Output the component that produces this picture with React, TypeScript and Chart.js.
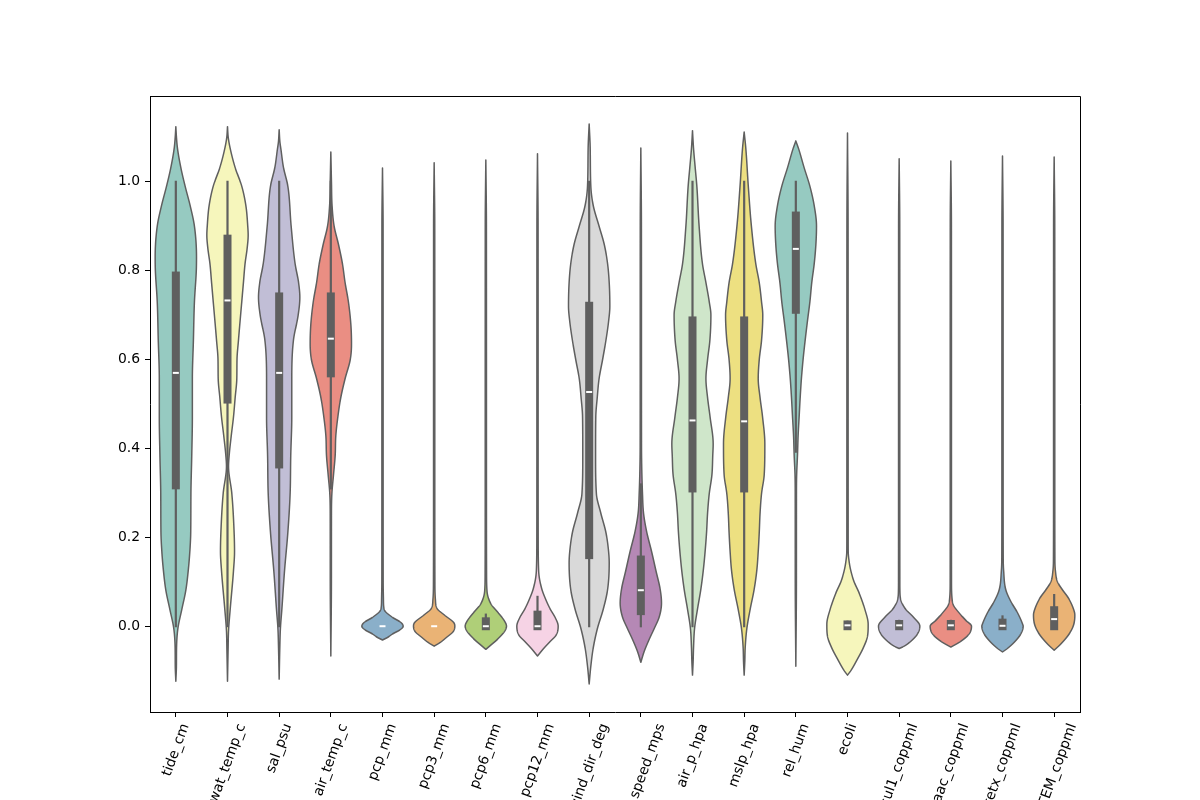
import React, { useEffect, useRef } from "react";
import { Chart, registerables } from "chart.js";

Chart.register(...registerables);

// ---- data -------------------------------------------------------------

const categories = [
  "tide_cm", "wat_temp_c", "sal_psu", "air_temp_c", "pcp_mm", "pcp3_mm",
  "pcp6_mm", "pcp12_mm", "wind_dir_deg", "wind_speed_mps", "air_p_hpa",
  "mslp_hpa", "rel_hum", "ecoli", "sul1_coppml", "aac_coppml",
  "tetx_coppml", "blaTEM_coppml",
];

// inner box statistics (normalised 0..1 values)
const whiskerLow = [0, 0, 0, 0.31, 0, 0, 0, 0, 0, 0, 0, 0, 0.393, 0, 0, 0, 0, 0];
const quartile1 = [0.317, 0.51, 0.364, 0.569, 0, 0, 0, 0, 0.16, 0.034, 0.31, 0.31, 0.712, 0, 0, 0, 0, 0];
const medians = [0.57, 0.733, 0.57, 0.647, 0, 0, 0, 0, 0.527, 0.081, 0.463, 0.461, 0.849, 0.002, 0.002, 0.002, 0.001, 0.016];
const quartile3 = [0.789, 0.872, 0.742, 0.742, 0, 0, 0.011, 0.026, 0.721, 0.15, 0.688, 0.688, 0.924, 0.004, 0.005, 0.005, 0.008, 0.036];
const whiskerHigh = [1, 1, 1, 1, 0, 0, 0.026, 0.066, 1, 0.319, 1, 1, 1, 0.01, 0.012, 0.012, 0.022, 0.07];

// kernel density outlines: [value, relative half-width]
const tideDensity: [number, number][] = [[1.124,0],[1.10,0.03],[1.075,0.08],[1.03,0.25],[0.99,0.45],[0.945,0.7],[0.90,0.9],[0.83,1.0],[0.80,0.99],[0.73,0.9],[0.643,0.85],[0.557,0.8],[0.47,0.8],[0.384,0.77],[0.298,0.73],[0.211,0.72],[0.17,0.68],[0.125,0.6],[0.08,0.48],[0.038,0.29],[-0.005,0.1],[-0.048,0.035],[-0.09,0.028],[-0.124,0]];
const watTempDensity: [number, number][] = [[1.124,0],[1.10,0.035],[1.075,0.13],[1.032,0.37],[0.99,0.69],[0.946,0.89],[0.90,0.98],[0.88,1.0],[0.85,0.95],[0.816,0.85],[0.773,0.77],[0.73,0.69],[0.643,0.53],[0.60,0.46],[0.557,0.45],[0.514,0.37],[0.471,0.29],[0.428,0.18],[0.384,0.08],[0.36,0.05],[0.298,0.21],[0.211,0.32],[0.168,0.34],[0.125,0.29],[0.038,0.13],[-0.01,0.05],[-0.05,0.03],[-0.124,0]];
const salDensity: [number, number][] = [[1.117,0],[1.09,0.035],[1.075,0.08],[1.032,0.21],[0.99,0.42],[0.90,0.58],[0.816,0.77],[0.773,0.94],[0.74,1.0],[0.70,0.92],[0.643,0.69],[0.557,0.61],[0.47,0.61],[0.384,0.56],[0.298,0.53],[0.211,0.42],[0.125,0.26],[0.038,0.13],[-0.005,0.06],[-0.05,0.03],[-0.119,0]];
const airTempDensity: [number, number][] = [[1.067,0],[1.0,0.03],[0.946,0.06],[0.90,0.16],[0.859,0.37],[0.816,0.56],[0.773,0.69],[0.73,0.85],[0.678,0.97],[0.635,1.0],[0.60,0.94],[0.557,0.69],[0.514,0.48],[0.471,0.34],[0.428,0.24],[0.384,0.21],[0.341,0.13],[0.298,0.05],[0.25,0.03],[0.1,0.028],[-0.067,0]];
const pcpDensity: [number, number][] = [[1.031,0],[0.9,0.028],[0.3,0.03],[0.1,0.032],[0.06,0.045],[0.038,0.08],[0.021,0.45],[0.008,0.9],[0.0,1.0],[-0.008,0.85],[-0.017,0.5],[-0.025,0.25],[-0.031,0]];
const pcp3Density: [number, number][] = [[1.043,0],[0.9,0.028],[0.3,0.03],[0.1,0.035],[0.06,0.06],[0.04,0.14],[0.025,0.5],[0.008,0.95],[0.0,1.0],[-0.012,0.92],[-0.025,0.6],[-0.038,0.25],[-0.045,0]];
const pcp6Density: [number, number][] = [[1.049,0],[0.9,0.028],[0.3,0.03],[0.12,0.035],[0.08,0.055],[0.05,0.25],[0.03,0.6],[0.012,0.9],[0.0,1.0],[-0.012,0.9],[-0.03,0.55],[-0.042,0.25],[-0.052,0]];
const pcp12Density: [number, number][] = [[1.063,0],[0.9,0.028],[0.4,0.03],[0.2,0.033],[0.125,0.055],[0.085,0.2],[0.06,0.4],[0.04,0.6],[0.02,0.85],[0.0,1.0],[-0.02,0.9],[-0.035,0.6],[-0.05,0.3],[-0.067,0]];
const windDirDensity: [number, number][] = [[1.13,0],[1.075,0.05],[0.99,0.08],[0.946,0.2],[0.90,0.48],[0.859,0.73],[0.816,0.89],[0.773,0.97],[0.72,1.0],[0.686,0.94],[0.643,0.81],[0.60,0.65],[0.557,0.48],[0.514,0.39],[0.471,0.32],[0.384,0.31],[0.298,0.35],[0.255,0.56],[0.211,0.81],[0.168,0.94],[0.142,0.97],[0.082,0.89],[0.038,0.68],[-0.005,0.4],[-0.048,0.2],[-0.09,0.08],[-0.13,0]];
const windSpeedDensity: [number, number][] = [[1.076,0],[0.9,0.028],[0.6,0.03],[0.42,0.032],[0.384,0.035],[0.298,0.08],[0.255,0.13],[0.211,0.29],[0.168,0.52],[0.125,0.73],[0.082,0.94],[0.052,1.0],[0.021,0.89],[-0.005,0.65],[-0.03,0.4],[-0.057,0.16],[-0.081,0]];
const airPDensity: [number, number][] = [[1.115,0],[1.075,0.05],[1.032,0.13],[0.99,0.21],[0.90,0.32],[0.816,0.48],[0.773,0.65],[0.73,0.81],[0.70,0.89],[0.643,0.84],[0.60,0.73],[0.557,0.65],[0.514,0.73],[0.471,0.85],[0.41,1.0],[0.384,0.98],[0.341,0.94],[0.298,0.81],[0.255,0.73],[0.211,0.68],[0.168,0.61],[0.125,0.52],[0.082,0.4],[0.038,0.24],[-0.005,0.1],[-0.048,0.05],[-0.08,0.03],[-0.11,0]];
const mslpDensity: [number, number][] = [[1.112,0],[1.075,0.08],[0.99,0.2],[0.90,0.35],[0.816,0.56],[0.773,0.73],[0.73,0.84],[0.70,0.9],[0.643,0.84],[0.60,0.73],[0.557,0.68],[0.514,0.77],[0.471,0.89],[0.41,1.0],[0.341,0.97],[0.298,0.84],[0.255,0.77],[0.211,0.73],[0.168,0.68],[0.125,0.61],[0.082,0.48],[0.038,0.29],[-0.005,0.13],[-0.048,0.05],[-0.08,0.03],[-0.11,0]];
const relHumDensity: [number, number][] = [[1.092,0],[1.075,0.13],[1.032,0.4],[0.99,0.68],[0.946,0.89],[0.90,1.0],[0.859,0.97],[0.816,0.89],[0.773,0.77],[0.73,0.68],[0.686,0.56],[0.643,0.45],[0.60,0.35],[0.557,0.27],[0.514,0.21],[0.471,0.16],[0.428,0.11],[0.384,0.08],[0.341,0.04],[0.298,0.03],[0.1,0.028],[-0.09,0]];
const ecoliDensity: [number, number][] = [[1.11,0],[0.9,0.028],[0.5,0.03],[0.2,0.032],[0.168,0.035],[0.145,0.08],[0.125,0.16],[0.1,0.32],[0.075,0.56],[0.038,0.84],[0.004,1.0],[-0.022,0.97],[-0.048,0.77],[-0.074,0.48],[-0.1,0.16],[-0.11,0]];
const sul1Density: [number, number][] = [[1.052,0],[0.9,0.028],[0.3,0.03],[0.1,0.032],[0.082,0.035],[0.056,0.1],[0.038,0.32],[0.021,0.68],[0.0,1.0],[-0.017,0.89],[-0.034,0.56],[-0.045,0.24],[-0.05,0]];
const aacDensity: [number, number][] = [[1.047,0],[0.9,0.028],[0.3,0.03],[0.1,0.032],[0.064,0.055],[0.047,0.13],[0.03,0.4],[0.013,0.73],[0.0,1.0],[-0.017,0.89],[-0.034,0.48],[-0.047,0]];
const tetxDensity: [number, number][] = [[1.058,0],[0.9,0.028],[0.3,0.03],[0.15,0.035],[0.125,0.055],[0.082,0.16],[0.056,0.4],[0.03,0.73],[0.005,0.97],[0.0,1.0],[-0.017,0.89],[-0.034,0.61],[-0.05,0.24],[-0.058,0]];
const blaTemDensity: [number, number][] = [[1.056,0],[0.9,0.028],[0.3,0.03],[0.15,0.035],[0.125,0.06],[0.1,0.16],[0.082,0.4],[0.064,0.68],[0.038,0.94],[0.025,1.0],[0.003,0.94],[-0.017,0.73],[-0.04,0.32],[-0.054,0]];

const densities = [
  tideDensity, watTempDensity, salDensity, airTempDensity, pcpDensity,
  pcp3Density, pcp6Density, pcp12Density, windDirDensity, windSpeedDensity,
  airPDensity, mslpDensity, relHumDensity, ecoliDensity, sul1Density,
  aacDensity, tetxDensity, blaTemDensity,
];

const yTicks = [0, 0.2, 0.4, 0.6, 0.8, 1.0];
const yMin = -0.193;
const yMax = 1.193;

// Set3 qualitative palette, cycled
const set3 = [
  "#8dd3c7", "#ffffb3", "#bebada", "#fb8072", "#80b1d3", "#fdb462",
  "#b3de69", "#fccde5", "#d9d9d9", "#bc80bd", "#ccebc5", "#ffed6f",
];

// ---- helpers ----------------------------------------------------------

const GRAY = "#5f5f5f";
const TICK_FONT = '13.9px "DejaVu Sans"';

function desaturate(hex: string, prop: number): string {
  const r = parseInt(hex.slice(1, 3), 16) / 255;
  const g = parseInt(hex.slice(3, 5), 16) / 255;
  const b = parseInt(hex.slice(5, 7), 16) / 255;
  const mx = Math.max(r, g, b);
  const mn = Math.min(r, g, b);
  const l = (mx + mn) / 2;
  let h = 0;
  let s = 0;
  if (mx !== mn) {
    const d = mx - mn;
    s = l > 0.5 ? d / (2 - mx - mn) : d / (mx + mn);
    if (mx === r) h = ((g - b) / d + (g < b ? 6 : 0)) / 6;
    else if (mx === g) h = ((b - r) / d + 2) / 6;
    else h = ((r - g) / d + 4) / 6;
  }
  s *= prop;
  const hue2rgb = (p: number, q: number, t: number) => {
    if (t < 0) t += 1;
    if (t > 1) t -= 1;
    if (t < 1 / 6) return p + (q - p) * 6 * t;
    if (t < 1 / 2) return q;
    if (t < 2 / 3) return p + (q - p) * (2 / 3 - t) * 6;
    return p;
  };
  let rr = l, gg = l, bb = l;
  if (s > 0) {
    const q = l < 0.5 ? l * (1 + s) : l + s - l * s;
    const p = 2 * l - q;
    rr = hue2rgb(p, q, h + 1 / 3);
    gg = hue2rgb(p, q, h);
    bb = hue2rgb(p, q, h - 1 / 3);
  }
  const to = (v: number) => Math.round(v * 255).toString(16).padStart(2, "0");
  return "#" + to(rr) + to(gg) + to(bb);
}

const violinColors = categories.map((_, i) => desaturate(set3[i % set3.length], 0.75));

// monotone cubic (Fritsch-Carlson) interpolation of a density outline
function monotone(points: [number, number][]) {
  const p = [...points].sort((a, b) => a[0] - b[0]);
  const n = p.length;
  const xs = p.map((q) => q[0]);
  const ys = p.map((q) => q[1]);
  const d: number[] = [];
  for (let i = 0; i < n - 1; i++) d.push((ys[i + 1] - ys[i]) / (xs[i + 1] - xs[i]));
  const m: number[] = new Array(n).fill(0);
  m[0] = d[0];
  m[n - 1] = d[n - 2];
  for (let i = 1; i < n - 1; i++) m[i] = d[i - 1] * d[i] <= 0 ? 0 : (d[i - 1] + d[i]) / 2;
  for (let i = 0; i < n - 1; i++) {
    if (d[i] === 0) {
      m[i] = 0;
      m[i + 1] = 0;
      continue;
    }
    const a = m[i] / d[i];
    const b = m[i + 1] / d[i];
    const s = a * a + b * b;
    if (s > 9) {
      const t = 3 / Math.sqrt(s);
      m[i] = t * a * d[i];
      m[i + 1] = t * b * d[i];
    }
  }
  return {
    lo: xs[0],
    hi: xs[n - 1],
    at(x: number) {
      let i = 0;
      while (i < n - 2 && x > xs[i + 1]) i++;
      const h = xs[i + 1] - xs[i];
      const t = Math.min(1, Math.max(0, (x - xs[i]) / h));
      const t2 = t * t;
      const t3 = t2 * t;
      const v =
        (2 * t3 - 3 * t2 + 1) * ys[i] +
        (t3 - 2 * t2 + t) * h * m[i] +
        (-2 * t3 + 3 * t2) * ys[i + 1] +
        (t3 - t2) * h * m[i + 1];
      return Math.max(0, v);
    },
  };
}

// violins with their inner boxes, drawn through the chart's scales
const violinPlugin = {
  id: "violins",
  beforeDatasetsDraw(chart: any) {
    const { ctx } = chart;
    const xs = chart.scales.x;
    const ys = chart.scales.y;
    const unit = Math.abs(xs.getPixelForValue(1) - xs.getPixelForValue(0));
    const half = 0.4 * unit;
    ctx.save();
    densities.forEach((profile, i) => {
      const cx = xs.getPixelForValue(i);
      const f = monotone(profile);
      const pxSpan = Math.abs(ys.getPixelForValue(f.lo) - ys.getPixelForValue(f.hi));
      const steps = Math.max(40, Math.ceil(pxSpan * 2));
      const pts: { y: number; w: number }[] = [];
      for (let k = 0; k <= steps; k++) {
        const v = f.hi - ((f.hi - f.lo) * k) / steps;
        pts.push({ y: ys.getPixelForValue(v), w: f.at(v) * half });
      }
      ctx.beginPath();
      pts.forEach((p, k) => (k === 0 ? ctx.moveTo(cx + p.w, p.y) : ctx.lineTo(cx + p.w, p.y)));
      for (let k = pts.length - 1; k >= 0; k--) ctx.lineTo(cx - pts[k].w, pts[k].y);
      ctx.closePath();
      ctx.fillStyle = violinColors[i];
      ctx.fill();
      ctx.lineWidth = 1.5;
      ctx.lineJoin = "round";
      ctx.strokeStyle = GRAY;
      ctx.stroke();
    });
    densities.forEach((_, i) => {
      const cx = xs.getPixelForValue(i);
      ctx.strokeStyle = GRAY;
      ctx.fillStyle = GRAY;
      if (whiskerHigh[i] > whiskerLow[i]) {
        ctx.beginPath();
        ctx.lineWidth = 2.2;
        ctx.lineCap = "square";
        ctx.moveTo(cx, ys.getPixelForValue(whiskerHigh[i]));
        ctx.lineTo(cx, ys.getPixelForValue(whiskerLow[i]));
        ctx.stroke();
      }
      if (quartile3[i] > quartile1[i]) {
        const top = ys.getPixelForValue(quartile3[i]) - 4;
        const bottom = ys.getPixelForValue(quartile1[i]) + 4;
        ctx.fillRect(cx - 4, top, 8, bottom - top);
      }
    });
    ctx.restore();
  },
  afterDraw(chart: any) {
    const { ctx, chartArea } = chart;
    const xs = chart.scales.x;
    ctx.save();
    // top and right spines
    ctx.strokeStyle = "#000";
    ctx.lineWidth = 1;
    ctx.beginPath();
    ctx.moveTo(Math.round(chartArea.left), Math.round(chartArea.top) + 0.5);
    ctx.lineTo(Math.round(chartArea.right) + 0.5, Math.round(chartArea.top) + 0.5);
    ctx.lineTo(Math.round(chartArea.right) + 0.5, Math.round(chartArea.bottom));
    ctx.stroke();
    // rotated category labels, bounding box centred under each tick
    const theta = (70 * Math.PI) / 180;
    const c = Math.cos(theta);
    const s = Math.sin(theta);
    const size = 13.9;
    const H = size * 0.97;
    const desc = size * 0.21;
    const top = chartArea.bottom + 5 + 4.86;
    ctx.font = TICK_FONT;
    ctx.fillStyle = "#000";
    ctx.textAlign = "left";
    ctx.textBaseline = "alphabetic";
    categories.forEach((label, i) => {
      const tx = xs.getPixelForValue(i);
      const L = ctx.measureText(label).width;
      const bx = tx - (c * L - s * H) / 2;
      const by = top + s * L + c * H;
      const ox = bx - s * desc;
      const oy = by - c * desc;
      ctx.save();
      ctx.translate(ox, oy);
      ctx.rotate(-theta);
      ctx.fillText(label, 0, 0);
      ctx.restore();
    });
    ctx.restore();
  },
};

export default function App() {
  const canvasRef = useRef<HTMLCanvasElement | null>(null);

  useEffect(() => {
    const canvas = canvasRef.current;
    if (!canvas) return;
    const chart = new Chart(canvas, {
      type: "line",
      data: {
        labels: categories,
        datasets: [
          {
            label: "median",
            data: medians,
            showLine: false,
            pointStyle: "line",
            pointRadius: 3,
            pointHoverRadius: 3,
            pointBorderWidth: 2,
            pointBorderColor: "#ffffff",
            pointBackgroundColor: "#ffffff",
          },
        ],
      },
      options: {
        animation: false,
        responsive: false,
        devicePixelRatio: 1,
        events: [],
        layout: { padding: { left: 0, right: 120, top: 96, bottom: 0 } },
        plugins: { legend: { display: false }, tooltip: { enabled: false } },
        scales: {
          x: {
            type: "category",
            offset: true,
            grid: {
              display: true,
              drawOnChartArea: false,
              drawTicks: true,
              tickLength: 5,
              tickWidth: 1,
              color: "#000",
              offset: false,
            },
            border: { display: true, color: "#000", width: 1 },
            ticks: { display: false },
            afterFit: (scale: any) => {
              scale.height = 88;
            },
          },
          y: {
            type: "linear",
            min: yMin,
            max: yMax,
            afterBuildTicks: (scale: any) => {
              scale.ticks = yTicks.map((v) => ({ value: v }));
            },
            grid: {
              display: true,
              drawOnChartArea: false,
              drawTicks: true,
              tickLength: 5,
              tickWidth: 1,
              color: "#000",
            },
            border: { display: true, color: "#000", width: 1 },
            ticks: {
              padding: 5,
              color: "#000",
              font: { family: "DejaVu Sans", size: 13.9 },
              callback: (v: any) => Number(v).toFixed(1),
            },
            afterFit: (scale: any) => {
              scale.width = 150;
            },
          },
        },
      },
      plugins: [violinPlugin],
    });
    return () => chart.destroy();
  }, []);

  return (
    <div style={{ position: "absolute", left: 0, top: 0, width: 1200, height: 800, background: "#fff" }}>
      <canvas ref={canvasRef} width={1200} height={800} style={{ display: "block" }} />
    </div>
  );
}
